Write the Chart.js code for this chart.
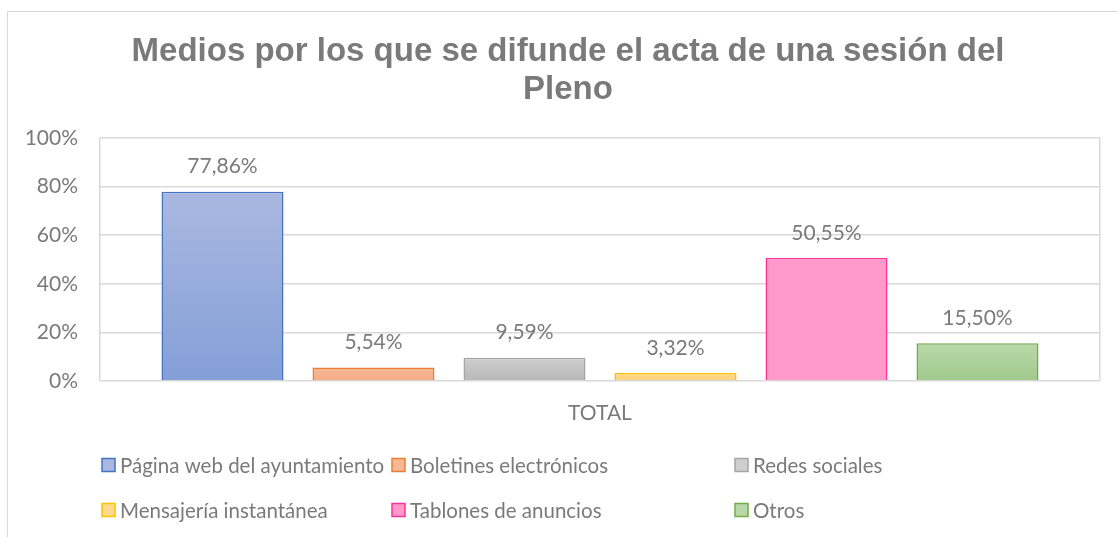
<!DOCTYPE html>
<html lang="es">
<head>
<meta charset="utf-8">
<title>Medios por los que se difunde el acta de una sesión del Pleno</title>
<script src="https://cdn.jsdelivr.net/npm/chart.js@4.4.1/dist/chart.umd.min.js"></script>
<style>
  html, body { margin: 0; padding: 0; background: #fff; overflow: hidden; }
  .wrap { position: relative; width: 1118px; height: 537px; }
  .frame { position: absolute; left: 7px; top: 11px; right: -4px; bottom: -4px; border: 1px solid #d9d9d9; }
  canvas { position: absolute; left: 0; top: 0; }
</style>
</head>
<body>
<div class="wrap">
  <div class="frame"></div>
  <canvas id="chart" width="1118" height="537"></canvas>
</div>
<script>
const categories = ['TOTAL'];
const seriesNames = [
    'Página web del ayuntamiento',
    'Boletines electrónicos',
    'Redes sociales',
    'Mensajería instantánea',
    'Tablones de anuncios',
    'Otros'
];
const seriesValues = [77.86, 5.54, 9.59, 3.32, 50.55, 15.50];
const yTicks = [0, 20, 40, 60, 80, 100];

// top / bottom gradient colours and outline for each series
const fillTop = ['#aab8e0', '#f6b896', '#cecece', '#ffda8c', '#ff99cc', '#b9d8aa'];
const fillBottom = ['#849fd8', '#f3ac84', '#b8b8b8', '#ffd27a', '#ff99cc', '#a0c98b'];
const outline = ['#4472c4', '#ed7d31', '#a5a5a5', '#ffc000', '#ff3399', '#70ad47'];

const textGray = '#7a7a7a';
const gridGray = '#d9d9d9';
const bodyFont = 'Lato, "Open Sans", sans-serif';

function barGradient(i) {
    return (context) => {
        const chart = context.chart;
        if (!chart.chartArea || context.raw == null) return fillTop[i];
        const y = chart.scales.y;
        const top = y.getPixelForValue(context.raw);
        const bottom = y.getPixelForValue(0);
        const g = chart.ctx.createLinearGradient(0, top, 0, bottom);
        g.addColorStop(0, fillTop[i]);
        g.addColorStop(1, fillBottom[i]);
        return g;
    };
}

const fmtPct = v => v.toFixed(2).replace('.', ',') + '%';

// value labels above every bar
const valueLabels = {
    id: 'valueLabels',
    afterDatasetsDraw(chart) {
        const ctx = chart.ctx;
        ctx.save();
        ctx.font = '21px ' + bodyFont;
        ctx.fillStyle = textGray;
        ctx.textAlign = 'center';
        ctx.textBaseline = 'middle';
        chart.data.datasets.forEach((ds, i) => {
            chart.getDatasetMeta(i).data.forEach((bar, j) => {
                ctx.fillText(fmtPct(ds.data[j]), bar.x, bar.y - 25);
            });
        });
        ctx.restore();
    }
};

// centre the title on the frame rather than on the padded box
const titleShift = {
    id: 'titleShift',
    afterLayout(chart) {
        const t = chart.titleBlock;
        if (t) { t.left += 36; t.width -= 36; }
    }
};

// legend laid out as a 3-column grid under the axis
const gridLegend = {
    id: 'gridLegend',
    afterDraw(chart) {
        const ctx = chart.ctx;
        const cols = [102, 392, 735];
        const rows = [465, 510];
        ctx.save();
        ctx.font = '20.5px ' + bodyFont;
        ctx.textBaseline = 'middle';
        ctx.textAlign = 'left';
        chart.data.datasets.forEach((ds, i) => {
            const x = cols[i % 3];
            const y = rows[Math.floor(i / 3)];
            ctx.fillStyle = fillTop[i];
            ctx.fillRect(x, y - 6.5, 13, 13);
            ctx.strokeStyle = outline[i];
            ctx.lineWidth = 1.5;
            ctx.strokeRect(x, y - 6.5, 13, 13);
            ctx.fillStyle = textGray;
            ctx.fillText(ds.label, x + 18, y + 1);
        });
        ctx.restore();
    }
};

new Chart(document.getElementById('chart'), {
    type: 'bar',
    data: {
        labels: categories,
        datasets: seriesNames.map((name, i) => ({
            label: name,
            data: [seriesValues[i]],
            backgroundColor: barGradient(i),
            borderColor: outline[i],
            borderWidth: 1.5,
            categoryPercentage: 0.906,
            barPercentage: 0.808
        }))
    },
    options: {
        responsive: false,
        animation: false,
        layout: { padding: { left: 0, right: 18, top: 0, bottom: 100 } },
        plugins: {
            legend: { display: false },
            tooltip: { enabled: false },
            title: {
                display: true,
                text: ['Medios por los que se difunde el acta de una sesión del', 'Pleno'],
                color: textGray,
                font: { family: '"Liberation Sans", Arial, sans-serif', size: 33, weight: 'bold', lineHeight: 1.15 },
                padding: { top: 33, bottom: 29 }
            }
        },
        scales: {
            x: {
                grid: { display: true, color: gridGray, lineWidth: 1.5, drawTicks: false },
                border: { display: false },
                ticks: { color: textGray, font: { family: bodyFont, size: 21 }, padding: 20 },
                afterFit(scale) { scale.height = 56; }
            },
            y: {
                min: 0,
                max: 100,
                afterBuildTicks(scale) { scale.ticks = yTicks.map(v => ({ value: v })); },
                grid: { color: gridGray, lineWidth: 1.5, drawTicks: false },
                border: { display: false },
                ticks: { color: textGray, font: { family: bodyFont, size: 21 }, padding: 22, callback: v => v + '%' },
                afterFit(scale) { scale.width = 100; }
            }
        }
    },
    plugins: [valueLabels, titleShift, gridLegend]
});
</script>
</body>
</html>
